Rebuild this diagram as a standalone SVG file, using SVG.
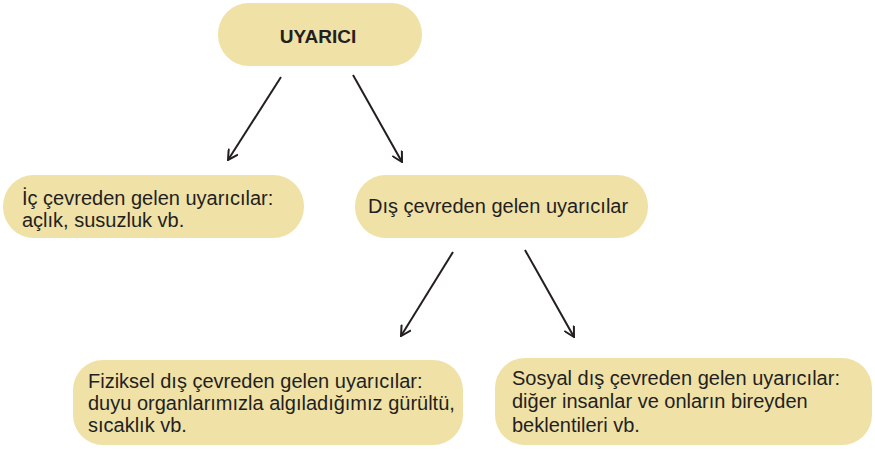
<svg xmlns="http://www.w3.org/2000/svg" width="875" height="450" viewBox="0 0 875 450">
<defs>
<style>
.box{fill:#f0e1a7;}
.t{font-family:"Liberation Sans",Arial,sans-serif;font-size:20px;fill:#231f20;}
.b{font-weight:bold;font-size:19px;}
.c{stroke:#231f20;stroke-width:2;fill:none;}
</style>
<marker id="ah" viewBox="0 0 12 12" refX="11" refY="6" markerWidth="12" markerHeight="12" markerUnits="userSpaceOnUse" orient="auto">
<path d="M1,0.5 L11,6 L1,11.5" fill="none" stroke="#231f20" stroke-width="2"/>
</marker>
</defs>
<rect width="875" height="450" fill="#ffffff"/>
<g id="connectors">
<line class="c" x1="281" y1="77" x2="228" y2="160" marker-end="url(#ah)"/>
<line class="c" x1="353" y1="75" x2="402" y2="162" marker-end="url(#ah)"/>
<line class="c" x1="453" y1="252" x2="401" y2="336" marker-end="url(#ah)"/>
<line class="c" x1="525" y1="250" x2="574" y2="337" marker-end="url(#ah)"/>
</g>
<g id="uyarici">
<rect class="box" x="218" y="3" width="204" height="63" rx="31"/>
<text class="t b" x="318" y="43" text-anchor="middle">UYARICI</text>
</g>
<g id="ic">
<rect class="box" x="3" y="175" width="301" height="63" rx="31"/>
<text class="t" x="22" y="205">İç çevreden gelen uyarıcılar:</text>
<text class="t" x="22" y="227">açlık, susuzluk vb.</text>
</g>
<g id="dis">
<rect class="box" x="355" y="175" width="293" height="63" rx="31"/>
<text class="t" x="368" y="213">Dış çevreden gelen uyarıcılar</text>
</g>
<g id="fiziksel">
<rect class="box" x="73" y="360" width="390" height="85" rx="30"/>
<text class="t" x="88" y="388">Fiziksel dış çevreden gelen uyarıcılar:</text>
<text class="t" x="88" y="410">duyu organlarımızla algıladığımız gürültü,</text>
<text class="t" x="88" y="432">sıcaklık vb.</text>
</g>
<g id="sosyal">
<rect class="box" x="495" y="358" width="377" height="87" rx="30"/>
<text class="t" x="512" y="385">Sosyal dış çevreden gelen uyarıcılar:</text>
<text class="t" x="512" y="408">diğer insanlar ve onların bireyden</text>
<text class="t" x="512" y="432">beklentileri vb.</text>
</g>
</svg>
